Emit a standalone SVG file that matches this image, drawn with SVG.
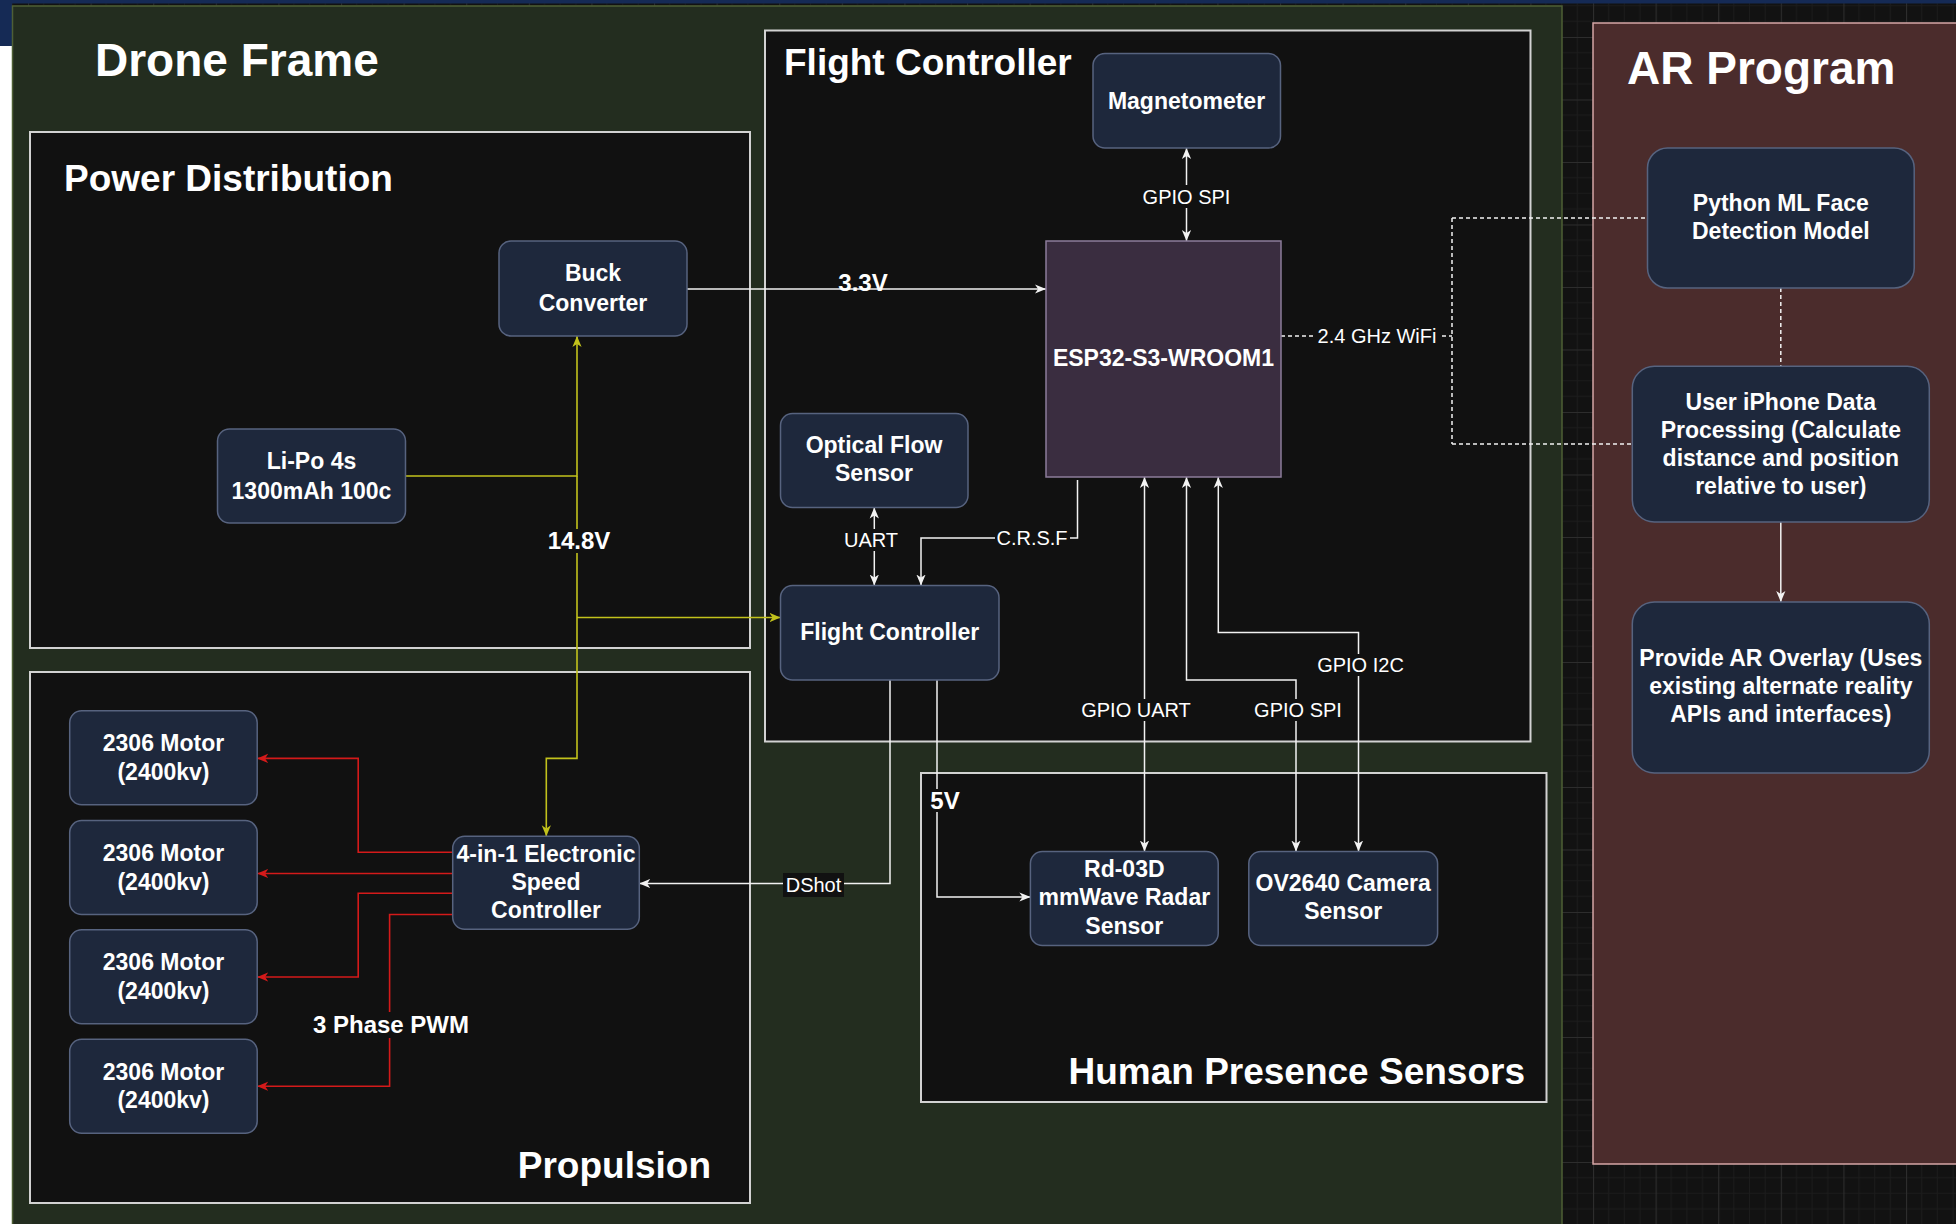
<svg xmlns="http://www.w3.org/2000/svg" width="1956" height="1224" viewBox="0 0 1956 1224">
<defs>
<pattern id="grid" x="28" y="37" width="62.6" height="62.5" patternUnits="userSpaceOnUse">
<rect width="62.6" height="62.5" fill="#121212"/>
<path d="M15.65 0V62.5M31.3 0V62.5M46.95 0V62.5M0 15.625H62.6M0 31.25H62.6M0 46.875H62.6" stroke="#1c1c1c" stroke-width="1"/>
<path d="M0.5 0V62.5M0 0.5H62.6" stroke="#2d2d2d" stroke-width="1.2"/>
</pattern>
<marker id="aw" viewBox="0 0 10 10" refX="10" refY="5" markerWidth="11" markerHeight="11" markerUnits="userSpaceOnUse" orient="auto-start-reverse"><path d="M0,0.8 L10,5 L0,9.2 L2.8,5 z" fill="#f2f2f2"/></marker>
<marker id="ay" viewBox="0 0 10 10" refX="10" refY="5" markerWidth="11" markerHeight="11" markerUnits="userSpaceOnUse" orient="auto-start-reverse"><path d="M0,0.8 L10,5 L0,9.2 L2.8,5 z" fill="#c2c21c"/></marker>
<marker id="ar" viewBox="0 0 10 10" refX="10" refY="5" markerWidth="11" markerHeight="11" markerUnits="userSpaceOnUse" orient="auto-start-reverse"><path d="M0,0.8 L10,5 L0,9.2 L2.8,5 z" fill="#d41a1a"/></marker>
</defs>
<style>
text{font-family:"Liberation Sans",Arial,Helvetica,sans-serif;fill:#ffffff}
.big{font-size:46px;font-weight:bold}
.ttl{font-size:37px;font-weight:bold}
.nt{font-size:23px;font-weight:bold;text-anchor:middle}
.lb{font-size:20px;text-anchor:middle}
.lbb{font-size:24px;font-weight:bold;text-anchor:middle}
.grp{fill:#111111;stroke:#d2d2d2;stroke-width:2}
.node{fill:#1e283c;stroke:#57637f;stroke-width:1.5}
.w{fill:none;stroke:#f2f2f2;stroke-width:1.5}
.y{fill:none;stroke:#c2c21c;stroke-width:1.6}
.r{fill:none;stroke:#d41a1a;stroke-width:1.6}
.d{stroke-dasharray:4 3}
.bg{fill:#111111}
</style>
<rect x="0" y="0" width="1956" height="1224" fill="url(#grid)"/>
<rect x="0" y="0" width="1956" height="3.5" fill="#152a55"/>
<rect x="0" y="0" width="12" height="46" fill="#152a55"/>
<rect x="0" y="46" width="12" height="1178" fill="#ffffff"/>

<g id="drone-frame">
<rect x="12.5" y="6" width="1549.5" height="1230" fill="#232d1f" stroke="#4e5f35" stroke-width="1.5"/>
<text class="big" x="95" y="76">Drone Frame</text>
</g>
<g id="ar-program">
<rect x="1593" y="23" width="370" height="1141" fill="#4b2c2c" stroke="#d6a6a6" stroke-width="1.5"/>
<text class="big" x="1627" y="84">AR Program</text>
</g>
<g id="power-distribution">
<rect class="grp" x="30" y="132" width="720" height="516"/>
<text class="ttl" x="64" y="191">Power Distribution</text>
</g>
<g id="propulsion">
<rect class="grp" x="30" y="672" width="720" height="531"/>
<text class="ttl" x="711" y="1178" text-anchor="end">Propulsion</text>
</g>
<g id="flight-controller-group">
<rect class="grp" x="765" y="30.5" width="765.5" height="711"/>
<text class="ttl" x="784" y="75">Flight Controller</text>
</g>
<g id="human-presence-sensors">
<rect class="grp" x="921" y="773" width="625.5" height="329"/>
<text class="ttl" x="1525" y="1084" text-anchor="end">Human Presence Sensors</text>
</g>

<g id="connectors">
<path class="y" d="M405.5,476 H577 V336" marker-end="url(#ay)"/>
<path class="y" d="M577,476 V758.4 H546.3 V836.3" marker-end="url(#ay)"/>
<path class="y" d="M577,617.5 H780.5" marker-end="url(#ay)"/>
<rect class="bg" x="545" y="529" width="68" height="24"/>
<text class="lbb" x="579" y="549">14.8V</text>

<path class="r" d="M452.7,852.3 H358.2 V758.4 H257.2" marker-end="url(#ar)"/>
<path class="r" d="M452.7,873.5 H257.2" marker-end="url(#ar)"/>
<path class="r" d="M452.7,893.3 H358.2 V977 H257.2" marker-end="url(#ar)"/>
<path class="r" d="M452.7,914.5 H389.6 V1086.2 H257.2" marker-end="url(#ar)"/>
<rect class="bg" x="308" y="1012" width="167" height="26"/>
<text class="lbb" x="391" y="1033">3 Phase PWM</text>

<path class="w" d="M687,289 H1046" marker-end="url(#aw)"/>
<rect class="bg" x="836" y="270" width="54" height="16"/>
<text class="lbb" x="863" y="291">3.3V</text>

<path class="w" d="M1186.5,148 V241" marker-start="url(#aw)" marker-end="url(#aw)"/>
<rect class="bg" x="1141" y="185" width="91" height="23"/>
<text class="lb" x="1186.5" y="203.5">GPIO SPI</text>

<path class="w d" d="M1281,336 H1452 M1452,218 V444 M1452,218 H1647.5 M1452,444 H1632.3 M1780.8,288 V366.3"/>
<rect class="bg" x="1313" y="325" width="128" height="23"/>
<text class="lb" x="1377" y="343">2.4 GHz WiFi</text>

<path class="w" d="M1780.8,522 V602" marker-end="url(#aw)"/>

<path class="w" d="M874.3,507.5 V585.5" marker-start="url(#aw)" marker-end="url(#aw)"/>
<rect class="bg" x="843" y="529" width="56" height="22"/>
<text class="lb" x="871" y="547">UART</text>

<path class="w" d="M1077.5,480 V538 H921 V585.5" marker-end="url(#aw)"/>
<rect class="bg" x="995" y="528" width="75" height="22"/>
<text class="lb" x="1032" y="545">C.R.S.F</text>

<path class="w" d="M1144.5,477 V851.5" marker-start="url(#aw)" marker-end="url(#aw)"/>
<rect class="bg" x="1080" y="699" width="112" height="22"/>
<text class="lb" x="1136" y="717">GPIO UART</text>

<path class="w" d="M1186.5,477 V680 H1296 V851.5" marker-start="url(#aw)" marker-end="url(#aw)"/>
<rect class="bg" x="1253" y="699" width="90" height="22"/>
<text class="lb" x="1298" y="717">GPIO SPI</text>

<path class="w" d="M1218.3,477 V632.6 H1358.5 V851.5" marker-start="url(#aw)" marker-end="url(#aw)"/>
<rect class="bg" x="1315" y="654" width="92" height="22"/>
<text class="lb" x="1360.5" y="672">GPIO I2C</text>

<path class="w" d="M890,680 V883.5 H639.3" marker-end="url(#aw)"/>
<rect class="bg" x="783" y="873" width="61" height="24"/>
<text class="lb" x="813.5" y="892">DShot</text>

<path class="w" d="M937,680 V897 H1030.4" marker-end="url(#aw)"/>
<rect class="bg" x="928" y="789" width="33" height="23"/>
<text class="lbb" x="945" y="809">5V</text>
</g>

<g id="buck-converter">
<rect class="node" x="499" y="241" width="188" height="95" rx="12"/>
<text class="nt" x="593" y="281">Buck</text>
<text class="nt" x="593" y="311">Converter</text>
</g>
<g id="lipo-battery">
<rect class="node" x="217.5" y="429" width="188" height="94" rx="12"/>
<text class="nt" x="311.5" y="468.5">Li-Po 4s</text>
<text class="nt" x="311.5" y="498.5">1300mAh 100c</text>
</g>
<g id="magnetometer">
<rect class="node" x="1093" y="53.5" width="187.5" height="94.5" rx="12"/>
<text class="nt" x="1186.5" y="108.5">Magnetometer</text>
</g>
<g id="esp32">
<rect x="1046" y="241" width="235" height="236" fill="#3a2d40" stroke="#8c7c9a" stroke-width="1.5"/>
<text class="nt" x="1163.5" y="366">ESP32-S3-WROOM1</text>
</g>
<g id="optical-flow-sensor">
<rect class="node" x="780.5" y="413.5" width="187.5" height="94" rx="12"/>
<text class="nt" x="874" y="453">Optical Flow</text>
<text class="nt" x="874" y="481">Sensor</text>
</g>
<g id="flight-controller">
<rect class="node" x="780.5" y="585.5" width="218.5" height="94.5" rx="12"/>
<text class="nt" x="889.7" y="640">Flight Controller</text>
</g>
<g id="motor-1">
<rect class="node" x="69.7" y="710.8" width="187.5" height="94" rx="12"/>
<text class="nt" x="163.5" y="751">2306 Motor</text>
<text class="nt" x="163.5" y="779.7">(2400kv)</text>
</g>
<g id="motor-2">
<rect class="node" x="69.7" y="820.6" width="187.5" height="94" rx="12"/>
<text class="nt" x="163.5" y="860.8">2306 Motor</text>
<text class="nt" x="163.5" y="889.5">(2400kv)</text>
</g>
<g id="motor-3">
<rect class="node" x="69.7" y="929.8" width="187.5" height="94" rx="12"/>
<text class="nt" x="163.5" y="970">2306 Motor</text>
<text class="nt" x="163.5" y="998.7">(2400kv)</text>
</g>
<g id="motor-4">
<rect class="node" x="69.7" y="1039.3" width="187.5" height="94" rx="12"/>
<text class="nt" x="163.5" y="1079.5">2306 Motor</text>
<text class="nt" x="163.5" y="1108.2">(2400kv)</text>
</g>
<g id="esc">
<rect class="node" x="452.7" y="836.3" width="186.6" height="93" rx="12"/>
<text class="nt" x="546" y="862">4-in-1 Electronic</text>
<text class="nt" x="546" y="889.5">Speed</text>
<text class="nt" x="546" y="917.5">Controller</text>
</g>
<g id="radar-sensor">
<rect class="node" x="1030.4" y="851.5" width="187.8" height="94" rx="12"/>
<text class="nt" x="1124.3" y="876.5">Rd-03D</text>
<text class="nt" x="1124.3" y="905">mmWave Radar</text>
<text class="nt" x="1124.3" y="933.5">Sensor</text>
</g>
<g id="camera-sensor">
<rect class="node" x="1248.8" y="851.5" width="188.8" height="94" rx="12"/>
<text class="nt" x="1343.2" y="891.4">OV2640 Camera</text>
<text class="nt" x="1343.2" y="919.3">Sensor</text>
</g>
<g id="python-ml">
<rect class="node" x="1647.5" y="148" width="266.7" height="140" rx="20"/>
<text class="nt" x="1780.8" y="210.7">Python ML Face</text>
<text class="nt" x="1780.8" y="238.8">Detection Model</text>
</g>
<g id="iphone-processing">
<rect class="node" x="1632.3" y="366.3" width="297" height="155.7" rx="22"/>
<text class="nt" x="1780.8" y="409.7">User iPhone Data</text>
<text class="nt" x="1780.8" y="437.8">Processing (Calculate</text>
<text class="nt" x="1780.8" y="465.8">distance and position</text>
<text class="nt" x="1780.8" y="493.9">relative to user)</text>
</g>
<g id="ar-overlay">
<rect class="node" x="1632.3" y="602" width="297" height="171" rx="22"/>
<text class="nt" x="1780.8" y="665.8">Provide AR Overlay (Uses</text>
<text class="nt" x="1780.8" y="694">existing alternate reality</text>
<text class="nt" x="1780.8" y="722">APIs and interfaces)</text>
</g>
</svg>
